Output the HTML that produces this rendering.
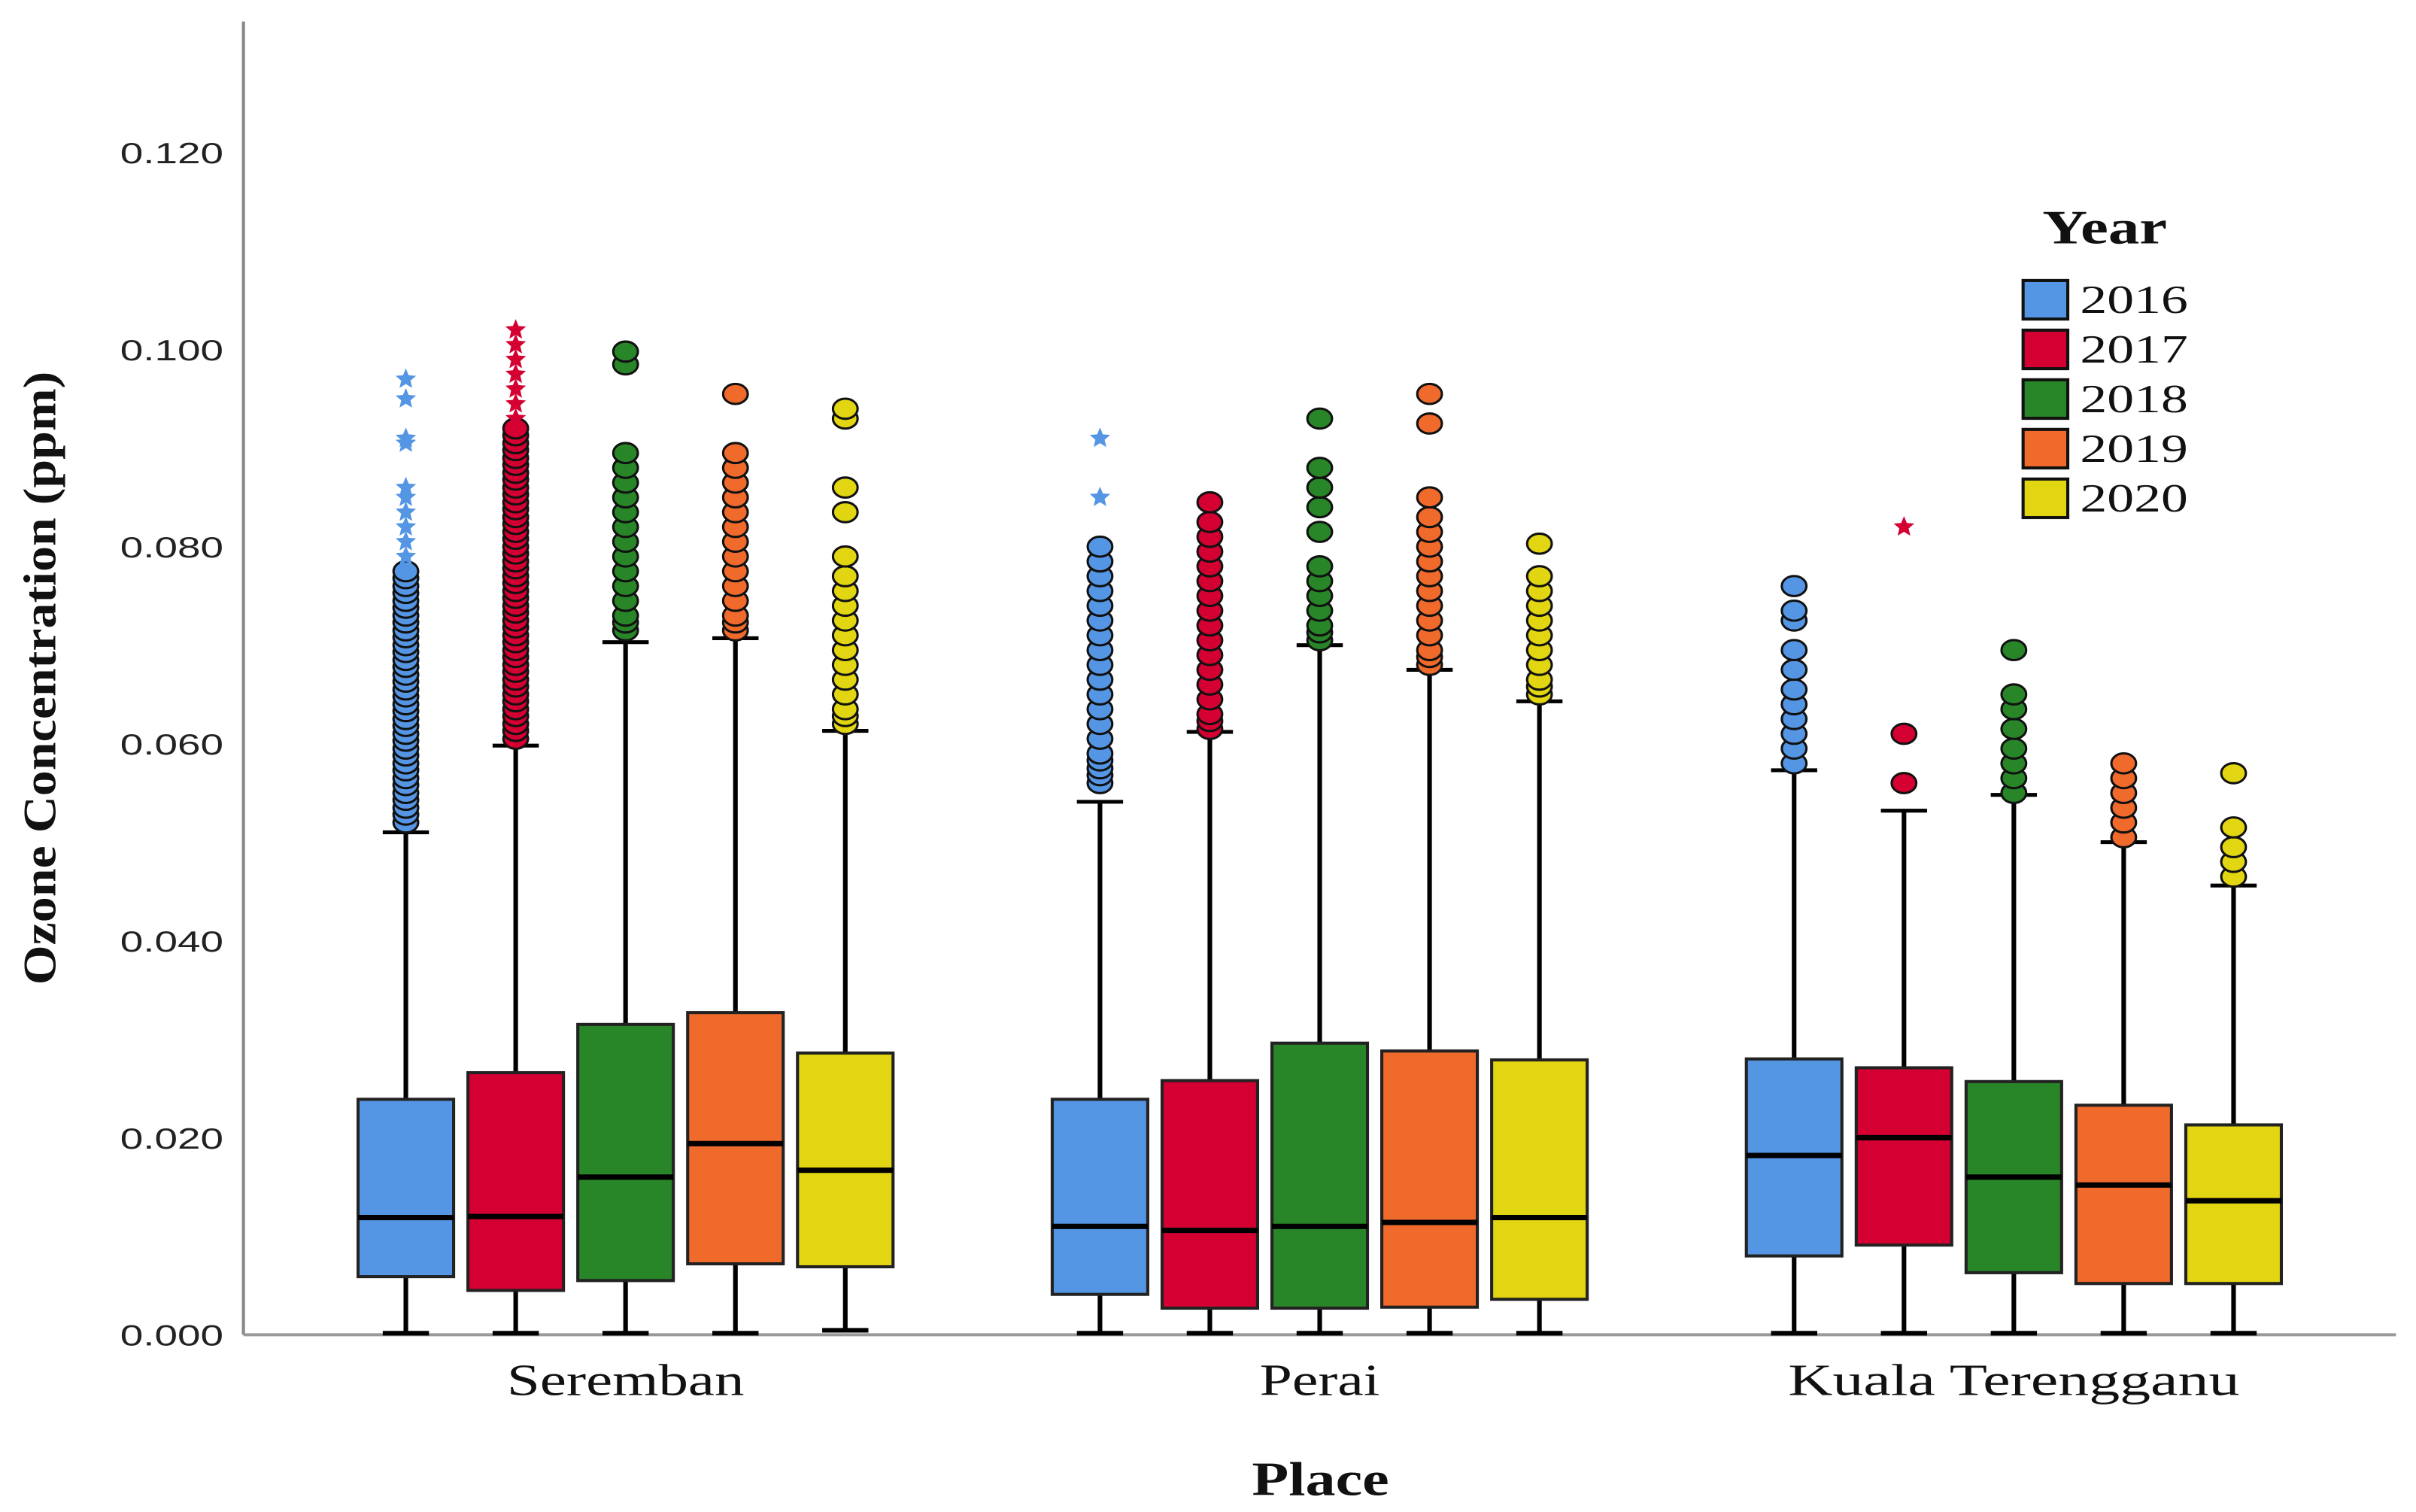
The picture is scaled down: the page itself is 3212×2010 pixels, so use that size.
<!DOCTYPE html>
<html><head><meta charset="utf-8"><style>
html,body{margin:0;padding:0;background:#fff;}
svg{display:block;}
</style></head><body>
<svg id="chart" width="3212" height="2010" viewBox="0 0 1568 981" preserveAspectRatio="none" xmlns="http://www.w3.org/2000/svg">
<g id="axes"></g>
<g id="plot"></g>
<g id="legend"></g>
</svg>
<script>
const places = ["Seremban", "Perai", "Kuala Terengganu"];
const years = ["2016", "2017", "2018", "2019", "2020"];
const colors = ["#5596e4", "#d50032", "#288528", "#f06a2c", "#e2d511"];
const yTicks = [0, 0.02, 0.04, 0.06, 0.08, 0.1, 0.12];
const yTickLabels = ["0.000", "0.020", "0.040", "0.060", "0.080", "0.100", "0.120"];
// per place, per year: [min, q1, median, q3, upperWhisker]
const seremban = [[0,0.0059,0.0119,0.0239,0.051],[0,0.0045,0.012,0.0266,0.0598],[0,0.0055,0.016,0.0315,0.0703],[0,0.0072,0.0194,0.0327,0.0707],[0.0003,0.0069,0.0167,0.0286,0.0613]];
const perai = [[0,0.0041,0.011,0.0239,0.0541],[0,0.0027,0.0106,0.0258,0.0612],[0,0.0027,0.011,0.0296,0.07],[0,0.0028,0.0114,0.0288,0.0675],[0,0.0036,0.0119,0.0279,0.0643]];
const kuala = [[0,0.008,0.0182,0.028,0.0573],[0,0.0091,0.02,0.0271,0.0532],[0,0.0063,0.016,0.0257,0.0548],[0,0.0052,0.0152,0.0233,0.05],[0,0.0052,0.0136,0.0213,0.0456]];
// circle outliers
const serembanOut = [
 [0.052,0.0528,0.0535,0.0543,0.055,0.0558,0.0565,0.0573,0.058,0.0588,0.0595,0.0603,0.061,0.0618,0.0625,0.0633,0.064,0.0648,0.0655,0.0663,0.067,0.0678,0.0685,0.0693,0.07,0.0708,0.0715,0.0723,0.073,0.0738,0.0745,0.0753,0.076,0.0768,0.0775],
 [0.0605,0.0613,0.062,0.0628,0.0635,0.0643,0.065,0.0658,0.0665,0.0673,0.068,0.0688,0.0695,0.0703,0.071,0.0718,0.0725,0.0733,0.074,0.0748,0.0755,0.0763,0.077,0.0778,0.0785,0.0793,0.08,0.0808,0.0815,0.0823,0.083,0.0838,0.0845,0.0853,0.086,0.0868,0.0875,0.0883,0.089,0.0898,0.0905,0.0913,0.092],
 [0.0715,0.0723,0.073,0.0745,0.076,0.0775,0.079,0.0805,0.082,0.0835,0.085,0.0865,0.088,0.0895,0.0985,0.0998],
 [0.0715,0.0723,0.073,0.0745,0.076,0.0775,0.079,0.0805,0.082,0.0835,0.085,0.0865,0.088,0.0895,0.0955],
 [0.062,0.0628,0.0635,0.065,0.0665,0.068,0.0695,0.071,0.0725,0.074,0.0755,0.077,0.079,0.0835,0.086,0.093,0.094]];
const peraiOut = [
 [0.056,0.0568,0.0575,0.0583,0.059,0.0605,0.062,0.0635,0.065,0.0665,0.068,0.0695,0.071,0.0725,0.074,0.0755,0.077,0.0785,0.08],
 [0.0615,0.0623,0.063,0.0645,0.066,0.0675,0.069,0.0705,0.072,0.0735,0.075,0.0765,0.078,0.0795,0.081,0.0825,0.0845],
 [0.0705,0.0713,0.072,0.0735,0.075,0.0765,0.078,0.0815,0.084,0.086,0.088,0.093],
 [0.068,0.0688,0.0695,0.071,0.0725,0.074,0.0755,0.077,0.0785,0.08,0.0815,0.083,0.085,0.0925,0.0955],
 [0.065,0.0658,0.0665,0.068,0.0695,0.071,0.0725,0.074,0.0755,0.077,0.0803]];
const kualaOut = [
 [0.058,0.0595,0.061,0.0625,0.064,0.0655,0.0675,0.0695,0.0725,0.0735,0.076],
 [0.056,0.061],
 [0.055,0.0565,0.058,0.0595,0.0615,0.0635,0.065,0.0695],
 [0.0505,0.052,0.0535,0.055,0.0565,0.058],
 [0.0465,0.048,0.0495,0.0515,0.057]];
// star (extreme) outliers
const serembanStars = [[0.079,0.0805,0.082,0.0835,0.085,0.086,0.0905,0.091,0.095,0.097],[0.093,0.0945,0.096,0.0975,0.099,0.1005,0.102],[],[],[]];
const peraiStars = [[0.085,0.091],[],[],[],[]];
const kualaStars = [[],[0.082],[],[],[]];

const boxes = [seremban, perai, kuala];
const outs = [serembanOut, peraiOut, kualaOut];
const stars = [serembanStars, peraiStars, kualaStars];

const NS = "http://www.w3.org/2000/svg";
const X0 = 158, X1 = 1555, Y0 = 866, YTOP = 14;
const yScale = v => Y0 - v * (866 - 99) / 0.12;
const groupCenter = p => 406 + p * 450.5;
const boxCenter = (p, y) => groupCenter(p) + (y - 2) * 71.3;
const BW = 62;
const labelWidths = [154, 78, 293];

function mk(tag, attrs, parent, txt) {
  const e = document.createElementNS(NS, tag);
  for (const k in attrs) e.setAttribute(k, attrs[k]);
  if (txt !== undefined) e.textContent = txt;
  parent.appendChild(e);
  return e;
}
const axes = document.getElementById('axes');
const plot = document.getElementById('plot');
const legend = document.getElementById('legend');

let l = mk('line', {x1: X0, y1: YTOP, x2: X0, y2: Y0, stroke: '#888', 'stroke-width': 2}, axes);


l = mk('line', {x1: X0, y1: Y0, x2: X1, y2: Y0, stroke: '#999', 'stroke-width': 2}, axes);



yTicks.forEach((v, i) => {
  const t = mk('text', {x: 145, y: yScale(v) + 7, 'text-anchor': 'end', 'font-family': 'Liberation Sans, sans-serif', 'font-size': 19, textLength: 67, lengthAdjust: 'spacingAndGlyphs', fill: '#222'}, axes, yTickLabels[i]);
  
  
});
let t = mk('text', {x: 0, y: 0, transform: 'translate(36,440) rotate(-90)', 'text-anchor': 'middle', 'font-family': 'Liberation Serif, serif', 'font-weight': 'bold', 'font-size': 30, textLength: 398, lengthAdjust: 'spacingAndGlyphs', fill: '#111'}, axes, 'Ozone Concentration (ppm)');



places.forEach((p, i) => {
  const tt = mk('text', {x: groupCenter(i), y: 905, 'text-anchor': 'middle', 'font-family': 'Liberation Serif, serif', 'font-size': 29, textLength: labelWidths[i], lengthAdjust: 'spacingAndGlyphs', fill: '#111'}, axes, p);
  
  
});
t = mk('text', {x: 857, y: 970, 'text-anchor': 'middle', 'font-family': 'Liberation Serif, serif', 'font-weight': 'bold', 'font-size': 31, textLength: 89, lengthAdjust: 'spacingAndGlyphs', fill: '#111'}, axes, 'Place');



function star(cx, cy, r) {
  let pts = [];
  for (let k = 0; k < 10; k++) {
    const a = -Math.PI / 2 + k * Math.PI / 5;
    const rr = k % 2 ? r * 0.45 : r;
    pts.push((cx + rr * Math.cos(a)).toFixed(2) + ',' + (cy + rr * Math.sin(a)).toFixed(2));
  }
  return pts.join(' ');
}

boxes.forEach((grp, p) => {
  grp.forEach((b, y) => {
    const cx = boxCenter(p, y), col = colors[y];
    const g = mk('g', {}, plot);
    
    
    mk('line', {x1: cx, y1: yScale(b[0]), x2: cx, y2: yScale(b[4]), stroke: '#000', 'stroke-width': 3}, g);
    mk('line', {x1: cx - 15, y1: yScale(b[4]), x2: cx + 15, y2: yScale(b[4]), stroke: '#000', 'stroke-width': 2.5}, g);
    mk('line', {x1: cx - 15, y1: yScale(b[0]) - 1, x2: cx + 15, y2: yScale(b[0]) - 1, stroke: '#000', 'stroke-width': 3}, g);
    mk('rect', {x: cx - BW / 2, y: yScale(b[3]), width: BW, height: yScale(b[1]) - yScale(b[3]), fill: col, stroke: '#222', 'stroke-width': 2}, g);
    mk('line', {x1: cx - BW / 2, y1: yScale(b[2]), x2: cx + BW / 2, y2: yScale(b[2]), stroke: '#000', 'stroke-width': 3.5}, g);
    outs[p][y].forEach(v => {
      const c = mk('ellipse', {cx: cx, cy: yScale(v), rx: 8, ry: 6.5, fill: col, stroke: '#111', 'stroke-width': 1.5}, g);
      
      
    });
    stars[p][y].forEach(v => {
      const s = mk('polygon', {points: star(cx, yScale(v), 7), fill: col}, g);
      
      
    });
  });
});

t = mk('text', {x: 1366, y: 158, 'text-anchor': 'middle', 'font-family': 'Liberation Serif, serif', 'font-weight': 'bold', 'font-size': 31, textLength: 81, lengthAdjust: 'spacingAndGlyphs', fill: '#111'}, legend, 'Year');


years.forEach((yr, i) => {
  const g = mk('g', {}, legend);
  
  
  const yy = 182 + i * 32.2;
  mk('rect', {x: 1313, y: yy, width: 29, height: 25, fill: colors[i], stroke: '#111', 'stroke-width': 2}, g);
  mk('text', {x: 1350, y: yy + 21, 'font-family': 'Liberation Serif, serif', 'font-size': 26, textLength: 70, lengthAdjust: 'spacingAndGlyphs', fill: '#111'}, g, yr);
});
</script>
</body></html>
